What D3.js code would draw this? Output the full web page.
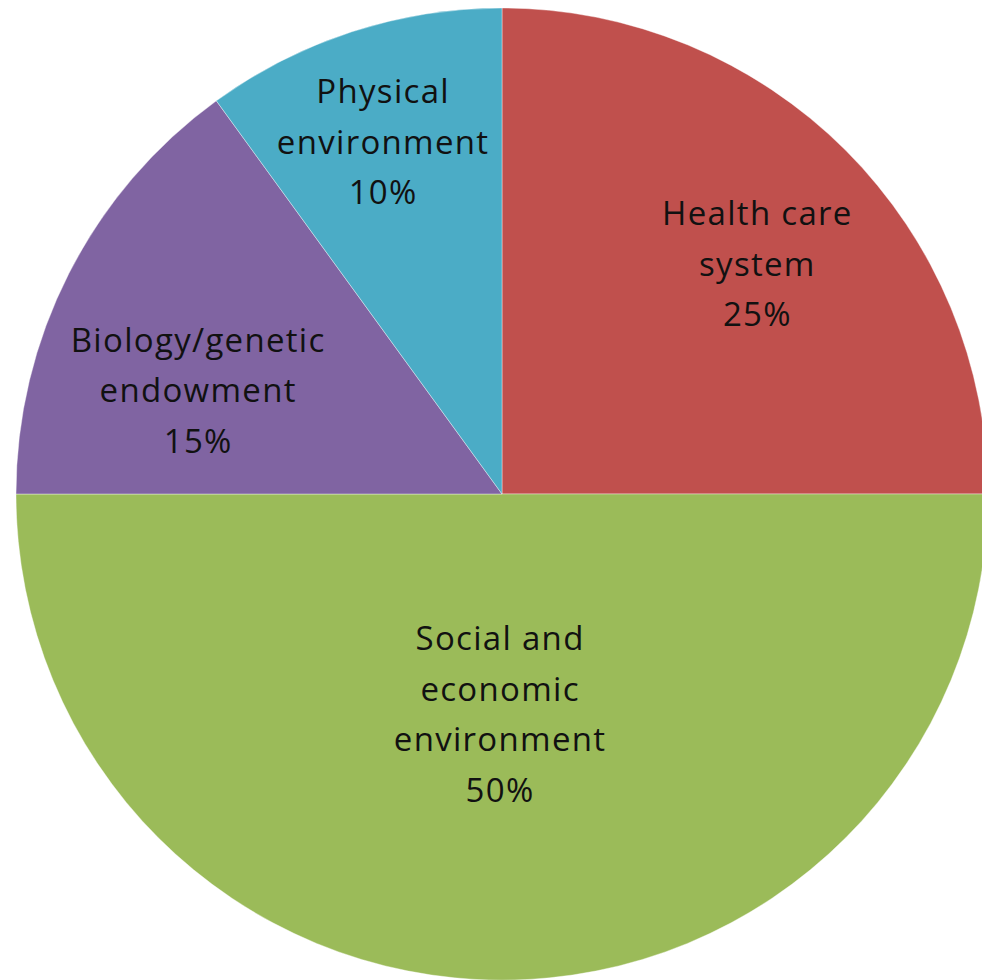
<!DOCTYPE html>
<html>
<head>
<meta charset="utf-8">
<script src="https://cdn.jsdelivr.net/npm/d3@7"></script>
<style>
  html, body { margin: 0; padding: 0; background: #fff; }
  svg { display: block; }
</style>
</head>
<body>
<script>
// datos del grafico
const categorias = [
    ["Health care", "system"],
    ["Social and", "economic", "environment"],
    ["Biology/genetic", "endowment"],
    ["Physical", "environment"]
]
const valores = [25, 50, 15, 10]
const colores = ["#C0504D", "#9BBB59", "#8064A2", "#4BACC6"]

const width = 982
const height = 980
const cx = 502
const cy = 494
const radius = 486
const lineHeight = 50.5

// ajuste de etiquetas (grados, fraccion del radio), como "best fit" de Excel
const ajusteEtiqueta = [
    { da: 3.1, k: 0.706 },
    { da: 0.5, k: 0.455 },
    { da: -8.3, k: 0.66 },
    { da: -0.7, k: 0.763 }
]

const datos = valores.map((v, i) => ({ i: i, valor: v, lineas: categorias[i] }))
const total = d3.sum(valores)
const format = d3.format(".0%")

const pie = d3.pie()
    .sort(null)
    .value((d) => d.valor)

const arc = d3.arc()
    .innerRadius(0)
    .outerRadius(radius)

const scaleColor = d3.scaleOrdinal()
    .domain(datos.map((d) => d.i))
    .range(colores)

const svg = d3.select("body")
    .append("svg")
    .attr("width", width)
    .attr("height", height)

const group = svg.append("g")
    .attr("transform", `translate(${cx} ${cy})`)

const arcos = pie(datos)

group.append("g")
    .selectAll("path")
    .data(arcos)
    .enter()
    .append("path")
    .attr("d", arc)
    .attr("fill", (d) => scaleColor(d.data.i))
    .attr("stroke", "#fff")
    .attr("stroke-opacity", 0.5)
    .attr("stroke-width", 0.75)

const etiquetas = group.append("g")
    .attr("font-family", "'Open Sans', sans-serif")
    .attr("font-size", 33)
    .attr("letter-spacing", "1.3px")
    .attr("fill", "#111")
    .attr("text-anchor", "middle")
    .selectAll("text")
    .data(arcos)
    .enter()
    .append("text")
    .each(function (d) {
        const aj = ajusteEtiqueta[d.data.i]
        const ang = (d.startAngle + d.endAngle) / 2 + aj.da * Math.PI / 180
        const r = radius * aj.k
        const x = r * Math.sin(ang)
        const y = -r * Math.cos(ang)
        const lineas = d.data.lineas.concat([format(d.data.valor / total)])
        const n = lineas.length
        // centro del bloque -> primera linea base
        const y0 = y - (n - 1) * lineHeight / 2 + 11
        d3.select(this)
            .selectAll("tspan")
            .data(lineas)
            .enter()
            .append("tspan")
            .attr("x", x)
            .attr("y", (_, j) => y0 + j * lineHeight)
            .text((t) => t)
    })
</script>
</body>
</html>
